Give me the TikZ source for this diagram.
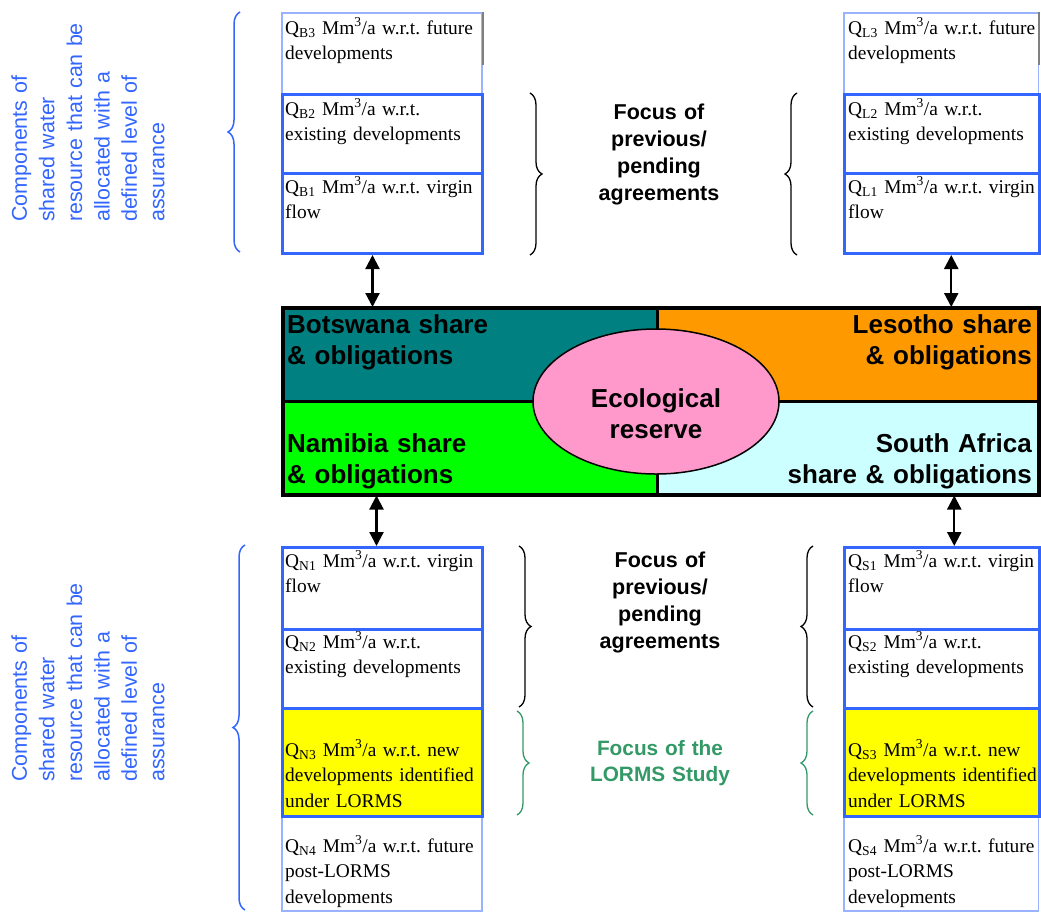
\documentclass[tikz,border=0pt]{standalone}
\usepackage{fontspec}
\setmainfont{Liberation Sans}
\newfontfamily\timesfont{Liberation Serif}
\usetikzlibrary{arrows.meta,shapes.geometric,decorations.pathreplacing,positioning}
\definecolor{lineblue}{HTML}{3366FF}
\definecolor{paleblue}{HTML}{99B3FF}
\definecolor{bwteal}{HTML}{008080}
\definecolor{lsorange}{HTML}{FF9900}
\definecolor{nmgreen}{HTML}{00FF00}
\definecolor{sacyan}{HTML}{CCFFFF}
\definecolor{respink}{HTML}{FF99CC}
\definecolor{qyellow}{HTML}{FFFF00}
\definecolor{studygreen}{HTML}{339966}
\tikzset{qbox/.style={draw=lineblue, line width=3pt, minimum width=200pt,
  inner sep=0pt, anchor=north west},
  fbox/.style={draw=paleblue, line width=1.5pt, minimum width=200pt,
  inner sep=0pt, anchor=north west},
  qtxt/.style={anchor=base west, inner sep=0pt, text width=196pt, align=left,
  font=\timesfont\fontsize{19.4}{25.5}\selectfont\frenchspacing},
  quad/.style={draw=black, line width=2.5pt, minimum height=93pt,
  inner sep=0pt, anchor=north west},
  share/.style={inner sep=0pt, text width=330pt,
  font=\bfseries\fontsize{26}{31}\selectfont},
  focus/.style={inner sep=0pt, text width=180pt, align=center, anchor=base,
  font=\bfseries\fontsize{21.5}{27}\selectfont},
  side/.style={rotate=90, inner sep=0pt, text=lineblue, text width=215pt,
  align=left, anchor=base west, font=\fontsize{21.4}{27.5}\selectfont},
  brc/.style={decorate, decoration={brace, amplitude=12pt}, line width=1.3pt}}

\begin{document}
\begin{tikzpicture}[x=1pt, y=-1pt,
  link/.style={{Triangle[width=14pt,length=14pt]}-{Triangle[width=14pt,length=14pt]},
  line width=2.2pt}]
  \path[use as bounding box, fill=white] (0,0) rectangle (1041,911);

  \node[side] (comptop) at (27,222) {Components of\\shared water\\resource that can be\\allocated with a\\defined level of\\assurance};
  \node[side] (compbot) at (27,782) {Components of\\shared water\\resource that can be\\allocated with a\\defined level of\\assurance};

  \node[fbox, minimum height=81pt] (b3) at (281,12) {};
  \node[qbox, minimum height=79pt] (b2) at (281,93) {};
  \node[qbox, minimum height=80pt] (b1) at (281,172) {};
  \draw[gray, line width=2pt] (b3.north east) -- ++(0,53);
  \node[qtxt] (b3txt) at (285,34)  {Q\textsubscript{B3} Mm\textsuperscript{3}/a w.r.t. future\\developments};
  \node[qtxt] (b2txt) at (285,115) {Q\textsubscript{B2} Mm\textsuperscript{3}/a w.r.t.\\existing developments};
  \node[qtxt] (b1txt) at (285,193) {Q\textsubscript{B1} Mm\textsuperscript{3}/a w.r.t. virgin\\flow};

  \node[fbox, minimum width=194.5pt, minimum height=81pt] (l3) at (843,12) {};
  \node[qbox, minimum width=194.5pt, minimum height=79pt] (l2) at (843,93) {};
  \node[qbox, minimum width=194.5pt, minimum height=80pt] (l1) at (843,172) {};
  \draw[gray, line width=2pt] (l3.north east) -- ++(0,53);
  \node[qtxt] (l3txt) at (848,34)  {Q\textsubscript{L3} Mm\textsuperscript{3}/a w.r.t. future\\developments};
  \node[qtxt] (l2txt) at (848,115) {Q\textsubscript{L2} Mm\textsuperscript{3}/a w.r.t.\\existing developments};
  \node[qtxt] (l1txt) at (848,193) {Q\textsubscript{L1} Mm\textsuperscript{3}/a w.r.t. virgin\\flow};

  \node[focus] (prevtop) at (659,119) {Focus of\\previous/\\pending\\agreements};
  \draw[brc, lineblue, line width=1.5pt] (240,252) -- (240,12);
  \draw[brc] (530,93) -- (530,255);
  \draw[brc] (797,255) -- (797,93);

  \node[quad, fill=bwteal, minimum width=374pt] (botswana) at (282,307) {};
  \node[quad, fill=lsorange, minimum width=381pt] (lesotho) at (656,307) {};
  \node[quad, fill=nmgreen, minimum width=374pt] (namibia) at (282,400) {};
  \node[quad, fill=sacyan, minimum width=381pt] (southafrica) at (656,400) {};
  \draw[line width=3pt] (botswana.north west) rectangle (southafrica.south east);
  \node[ellipse, draw, line width=1.5pt, fill=respink, inner sep=0pt,
    minimum width=246pt, minimum height=145pt] (reserve) at (656,401.5) {};
  \node[share, align=left, anchor=base west] (botswanatxt) at (287,333) {Botswana share\\\& obligations};
  \node[share, align=right, anchor=base east] (lesothotxt) at (1032,333) {Lesotho share\\\& obligations};
  \node[share, align=left, anchor=base west] (namibiatxt) at (287,452) {Namibia share\\\& obligations};
  \node[share, align=right, anchor=base east] (satxt) at (1032,452) {South Africa\\share \& obligations};
  \node[share, align=center, anchor=base, text width=220pt] (reservetxt) at (656,407) {Ecological\\reserve};

  \node[fbox, minimum height=95pt] (n4) at (281,815) {};
  \node[qbox, minimum height=82pt] (n1) at (281,546) {};
  \node[qbox, minimum height=79pt] (n2) at (281,628) {};
  \node[qbox, fill=qyellow, minimum height=108pt] (n3) at (281,707) {};
  \node[qtxt] (n1txt) at (285,567) {Q\textsubscript{N1} Mm\textsuperscript{3}/a w.r.t. virgin\\flow};
  \node[qtxt] (n2txt) at (285,648) {Q\textsubscript{N2} Mm\textsuperscript{3}/a w.r.t.\\existing developments};
  \node[qtxt] (n3txt) at (285,756) {Q\textsubscript{N3} Mm\textsuperscript{3}/a w.r.t. new\\developments identified\\under LORMS};
  \node[qtxt] (n4txt) at (285,852) {Q\textsubscript{N4} Mm\textsuperscript{3}/a w.r.t. future\\post-LORMS\\developments};

  \node[fbox, minimum width=194.5pt, minimum height=95pt] (s4) at (843,815) {};
  \node[qbox, minimum width=194.5pt, minimum height=82pt] (s1) at (843,546) {};
  \node[qbox, minimum width=194.5pt, minimum height=79pt] (s2) at (843,628) {};
  \node[qbox, minimum width=194.5pt, fill=qyellow, minimum height=108pt] (s3) at (843,707) {};
  \node[qtxt] (s1txt) at (848,567) {Q\textsubscript{S1} Mm\textsuperscript{3}/a w.r.t. virgin\\flow};
  \node[qtxt] (s2txt) at (848,648) {Q\textsubscript{S2} Mm\textsuperscript{3}/a w.r.t.\\existing developments};
  \node[qtxt] (s3txt) at (848,756) {Q\textsubscript{S3} Mm\textsuperscript{3}/a w.r.t. new\\developments identified\\under LORMS};
  \node[qtxt] (s4txt) at (848,852) {Q\textsubscript{S4} Mm\textsuperscript{3}/a w.r.t. future\\post-LORMS\\developments};

  \node[focus] (prevbot) at (660,567) {Focus of\\previous/\\pending\\agreements};
  \node[focus, text=studygreen, font=\bfseries\fontsize{20.8}{26}\selectfont] (lorms) at (660,755) {Focus of the\\LORMS Study};
  \draw[brc, lineblue, line width=1.5pt] (245,910) -- (245,545);
  \draw[brc] (519,546) -- (519,707);
  \draw[brc, studygreen] (517,711) -- (517,815);
  \draw[brc] (813,707) -- (813,546);
  \draw[brc, studygreen] (813,815) -- (813,711);

  \draw[link] ([xshift=-10pt]b1.south) -- ([xshift=-10pt]b1.south |- botswana.north);
  \draw[link] ([xshift=9.5pt]l1.south) -- ([xshift=9.5pt]l1.south |- lesotho.north);
  \draw[link] ([xshift=-6pt]n1.north) -- ([xshift=-6pt]n1.north |- namibia.south);
  \draw[link] ([xshift=12.5pt]s1.north) -- ([xshift=12.5pt]s1.north |- southafrica.south);
\end{tikzpicture}
\end{document}
